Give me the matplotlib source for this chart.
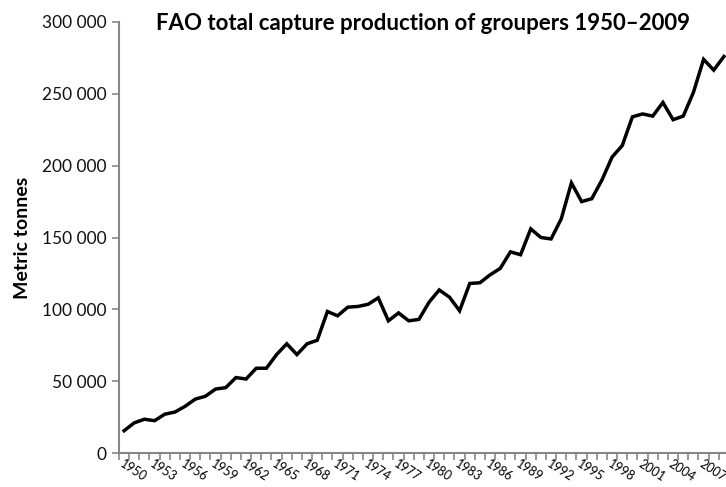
import numpy as np
import matplotlib
matplotlib.use("Agg")
import matplotlib.pyplot as plt
from matplotlib.ticker import FuncFormatter, MultipleLocator, FixedLocator

years = list(range(1950, 2010))
catch = [
    15500, 21000, 23500, 22500, 27000, 28500, 32500, 37500, 39500, 44500,
    45500, 52500, 51500, 59000, 59000, 68500, 76000, 68500, 76000, 78500,
    98500, 95500, 101500, 102000, 103500, 108000, 92000, 97500, 92000, 93000,
    105000, 113500, 108500, 99000, 118000, 118500, 124000, 128500, 140000, 138000,
    156000, 150000, 149000, 163000, 188000, 175000, 177000, 190000, 206000, 214000,
    234000, 236000, 234500, 244000, 232000, 234500, 251000, 274000, 266500, 276000,
]
label_years = years[::3]

title = "FAO total capture production of groupers 1950\u20132009"
ylabel = "Metric tonnes"

plt.rcParams["font.family"] = ["Lato", "DejaVu Sans"]

fig = plt.figure(figsize=(7.26, 4.87), dpi=100)
ax = fig.add_axes([119 / 726, 1 - 453 / 487, 610 / 726, 431 / 487])

ax.plot(years, catch, color="black", lw=2.5, solid_joinstyle="miter")

ax.set_xlim(1949.5, 2009.5)
ax.set_ylim(0, 300000)

grey = "#868686"
for s in ["top", "right"]:
    ax.spines[s].set_visible(False)
for s in ["left", "bottom"]:
    ax.spines[s].set_color(grey)
    ax.spines[s].set_linewidth(1.5)

ax.yaxis.set_major_locator(MultipleLocator(50000))
ax.yaxis.set_major_formatter(FuncFormatter(lambda v, p: f"{int(v):,}".replace(",", " ")))
ax.tick_params(axis="y", direction="out", length=5, width=1.2, color=grey,
               labelsize=12.5, pad=4, labelcolor="#111111")

ax.xaxis.set_minor_locator(FixedLocator([y - 0.5 for y in years] + [2009.5]))
ax.xaxis.set_major_locator(FixedLocator(label_years))
ax.tick_params(axis="x", which="minor", direction="out", length=5, width=1.2, color=grey)
ax.tick_params(axis="x", which="major", length=0, pad=3.5, labelsize=9)
for lab in ax.get_xticklabels():
    lab.set_rotation(-33)
    lab.set_ha("left")
    lab.set_va("top")
    lab.set_rotation_mode("anchor")

ax.set_ylabel(ylabel, fontsize=14, fontweight="bold")
ax.yaxis.set_label_coords(-0.145, 0.5)

fig.text(423 / 726, 1 - 24 / 487, title, ha="center", va="center",
         fontsize=16, fontweight="bold")

fig.savefig("out.png", dpi=100)
